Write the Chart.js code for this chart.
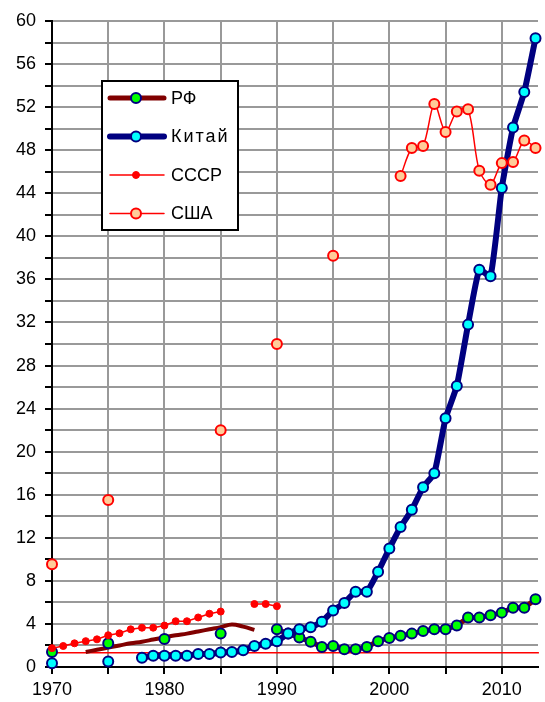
<!DOCTYPE html>
<html>
<head>
<meta charset="utf-8">
<script src="https://cdn.jsdelivr.net/npm/chart.js@4"></script>
<style>
  html, body { margin: 0; padding: 0; background: #fff; }
  #wrap { width: 545px; height: 702px; }
</style>
</head>
<body>
<div id="wrap"><canvas id="chart"></canvas></div>
<script>
// years on the x axis
const years = [1970, 1971, 1972, 1973, 1974, 1975, 1976, 1977, 1978, 1979,
               1980, 1981, 1982, 1983, 1984, 1985, 1986, 1987, 1988, 1989,
               1990, 1991, 1992, 1993, 1994, 1995, 1996, 1997, 1998, 1999,
               2000, 2001, 2002, 2003, 2004, 2005, 2006, 2007, 2008, 2009,
               2010, 2011, 2012, 2013];
const xTickLabels = [1970, 1980, 1990, 2000, 2010];
const yTickLabels = [0, 4, 8, 12, 16, 20, 24, 28, 32, 36, 40, 44, 48, 52, 56, 60];

const rfValues = [1.4, null, null, null, null, 2.2, null, null, null, null,
                  2.6, null, null, null, null, 3.1, null, null, null, null,
                  3.5, 3.1, 2.75, 2.35, 1.85, 1.95, 1.65, 1.65, 1.85, 2.4,
                  2.7, 2.9, 3.1, 3.35, 3.5, 3.5, 3.85, 4.6, 4.6, 4.8,
                  5.05, 5.5, 5.5, 6.3];
// RF curve drawn without markers (1973-1988)
const rfCurve = [null, null, null, 1.4, 1.6, 1.8, 2.0, 2.2, 2.35, 2.55,
                 2.75, 2.95, 3.1, 3.3, 3.5, 3.7, 3.95, 3.75, 3.45, null,
                 null, null, null, null, null, null, null, null, null, null,
                 null, null, null, null, null, null, null, null, null, null,
                 null, null, null, null];
const chinaValues = [0.35, null, null, null, null, 0.5, null, null, 0.87, 1.05,
                     1.05, 1.05, 1.05, 1.2, 1.2, 1.35, 1.4, 1.55, 1.95, 2.15,
                     2.4, 3.1, 3.5, 3.7, 4.2, 5.25, 5.95, 7.0, 7.0, 8.85,
                     11.0, 13.0, 14.6, 16.7, 18.0, 23.1, 26.1, 31.8, 36.9, 36.3,
                     44.5, 50.1, 53.4, 58.4];
const ussrValues = [1.75, 1.95, 2.2, 2.4, 2.57, 2.95, 3.13, 3.5, 3.65, 3.65,
                    3.85, 4.25, 4.25, 4.6, 4.95, 5.15, null, null, 5.85, 5.85,
                    5.65, null, null, null, null, null, null, null, null, null,
                    null, null, null, null, null, null, null, null, null, null,
                    null, null, null, null];
const usaValues = [9.55, null, null, null, null, 15.5, null, null, null, null,
                   null, null, null, null, null, 22.0, null, null, null, null,
                   30.0, null, null, null, null, 38.2, null, null, null, null,
                   null, 45.6, 48.2, 48.4, 52.3, 49.7, 51.6, 51.8, 46.1, 44.8,
                   46.8, 46.9, 48.9, 48.2];
const refLevel = 1.33;

const toPoints = vals => years.map((yr, i) => ({ x: yr, y: vals[i] }));

const FONT = '"Liberation Sans", Arial, sans-serif';

// legend drawn as a box inside the plot
const boxLegend = {
  id: 'boxLegend',
  afterDraw(chart) {
    const ctx = chart.ctx;
    const items = chart.data.datasets.filter(d => d.inLegend);
    const left = 102, top = 81, width = 136, height = 149;
    ctx.save();
    ctx.fillStyle = '#fff';
    ctx.fillRect(left, top, width, height);
    ctx.strokeStyle = '#000';
    ctx.lineWidth = 2;
    ctx.strokeRect(left, top, width, height);
    items.forEach((d, i) => {
      const y = 98 + i * 38.5;
      ctx.strokeStyle = d.borderColor;
      ctx.lineWidth = d.borderWidth;
      ctx.lineCap = 'round';
      ctx.beginPath();
      ctx.moveTo(110, y);
      ctx.lineTo(164, y);
      ctx.stroke();
      ctx.beginPath();
      ctx.arc(136, y, d.pointRadius, 0, Math.PI * 2);
      ctx.fillStyle = d.pointBackgroundColor;
      ctx.fill();
      ctx.lineWidth = d.pointBorderWidth;
      ctx.strokeStyle = d.pointBorderColor;
      ctx.stroke();
      ctx.fillStyle = '#000';
      ctx.font = '18px ' + FONT;
      ctx.textBaseline = 'middle';
      if ('letterSpacing' in ctx) ctx.letterSpacing = d.label === 'Китай' ? '2px' : '0px';
      ctx.fillText(d.label, 171, y + 1);
    });
    ctx.restore();
  }
};

new Chart(document.getElementById('chart').getContext('2d'), {
  type: 'line',
  data: {
    datasets: [
      {
        label: 'РФ', inLegend: true, order: 4,
        data: toPoints(rfValues),
        borderColor: '#800000', borderWidth: 5,
        pointBackgroundColor: '#00FF00', pointBorderColor: '#000080',
        pointBorderWidth: 2, pointRadius: 5
      },
      {
        label: 'Китай', inLegend: true, order: 3,
        data: toPoints(chinaValues),
        borderColor: '#000080', borderWidth: 6, tension: 0.15,
        pointBackgroundColor: '#00FFFF', pointBorderColor: '#000080',
        pointBorderWidth: 2, pointRadius: 5
      },
      {
        label: 'СССР', inLegend: true, order: 2,
        data: toPoints(ussrValues),
        borderColor: '#FF0000', borderWidth: 1.5,
        pointBackgroundColor: '#FF0000', pointBorderColor: '#FF0000',
        pointBorderWidth: 1, pointRadius: 3.5
      },
      {
        label: 'США', inLegend: true, order: 1,
        data: toPoints(usaValues),
        borderColor: '#FF0000', borderWidth: 1.5, tension: 0.3,
        pointBackgroundColor: '#FFCC99', pointBorderColor: '#FF0000',
        pointBorderWidth: 2, pointRadius: 5
      },
      {
        label: 'РФ (кривая)', order: 5,
        data: toPoints(rfCurve),
        borderColor: '#800000', borderWidth: 4, tension: 0.4,
        pointRadius: 0
      },
      {
        label: 'уровень', order: 6,
        data: [{ x: years[0], y: refLevel }, { x: 2013.3, y: refLevel }],
        borderColor: '#FF0000', borderWidth: 1.5, pointRadius: 0
      }
    ]
  },
  options: {
    responsive: true,
    maintainAspectRatio: false,
    animation: false,
    spanGaps: false,
    layout: { padding: { top: 21, right: 0, left: 0, bottom: 0 } },
    datasets: { line: { clip: false } },
    plugins: { legend: { display: false }, tooltip: { enabled: false } },
    scales: {
      x: {
        type: 'linear',
        min: 1970, max: 2013.22,
        afterFit: s => { s.height = 35; },
        border: { color: '#000', width: 2 },
        grid: { color: '#999', lineWidth: 2, tickColor: '#000', tickLength: 7, tickWidth: 2 },
        ticks: {
          stepSize: 5, includeBounds: false, autoSkip: false, maxRotation: 0,
          padding: 5, color: '#000', font: { family: FONT, size: 18 },
          callback: v => xTickLabels.includes(v) ? String(v) : ''
        }
      },
      y: {
        min: 0, max: 60,
        afterFit: s => { s.width = 52; },
        border: { color: '#000', width: 2 },
        grid: { color: '#999', lineWidth: 2, tickColor: '#000', tickLength: 7, tickWidth: 2 },
        ticks: {
          stepSize: 2, autoSkip: false, padding: 9, color: '#000',
          font: { family: FONT, size: 18 },
          callback: v => yTickLabels.includes(v) ? String(v) : ''
        }
      }
    }
  },
  plugins: [boxLegend]
});
</script>
</body>
</html>
